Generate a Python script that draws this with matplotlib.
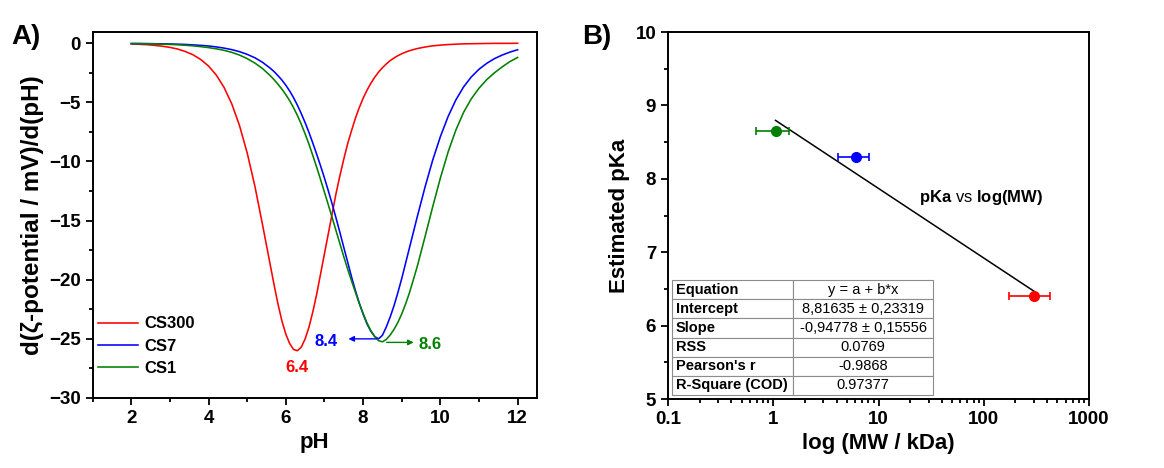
import numpy as np
import matplotlib
matplotlib.use('Agg')
import matplotlib.pyplot as plt
from matplotlib.ticker import MultipleLocator, LogLocator, FixedLocator, FixedFormatter, NullFormatter

plt.rcParams['font.family'] = ['Liberation Sans', 'DejaVu Sans']
plt.rcParams['font.weight'] = 'bold'
plt.rcParams['axes.labelweight'] = 'bold'
plt.rcParams['mathtext.fontset'] = 'custom'
plt.rcParams['mathtext.bf'] = 'Liberation Sans:bold'
plt.rcParams['mathtext.rm'] = 'Liberation Sans'

# panel A: derivative of zeta potential vs pH
ph = [2.0, 2.2, 2.4, 2.6, 2.8, 3.0, 3.2, 3.4, 3.6, 3.8, 4.0, 4.2, 4.4, 4.6, 4.8,
      5.0, 5.2, 5.4,
      5.6, 5.7, 5.8, 5.9, 6.0, 6.1, 6.2, 6.3, 6.4, 6.5, 6.6, 6.7, 6.8, 6.9,
      7.0, 7.1, 7.2, 7.3, 7.4, 7.5, 7.6, 7.7, 7.8, 7.9, 8.0, 8.1, 8.2, 8.3,
      8.4, 8.5, 8.6, 8.7, 8.8, 8.9, 9.0, 9.1, 9.2,
      9.4, 9.6, 9.8, 10.0, 10.2, 10.4, 10.6, 10.8, 11.0, 11.2, 11.4, 11.6,
      11.8, 12.0]
dz_cs300 = [-0.06, -0.09, -0.12, -0.18, -0.25, -0.35, -0.49, -0.70, -0.98, -1.38,
            -1.93, -2.69, -3.73, -5.12, -6.95, -9.28, -12.1, -15.4,
            -18.8, -20.5, -22.1, -23.5, -24.6, -25.4, -25.9, -26.0, -25.7, -25.0,
            -24.0, -22.7, -21.2, -19.5, -17.8, -16.1, -14.4, -12.7, -11.2, -9.8,
            -8.5, -7.4, -6.35, -5.45, -4.66, -3.98, -3.39, -2.88, -2.44, -2.07,
            -1.75, -1.47, -1.25, -1.05, -0.89, -0.75, -0.63,
            -0.45, -0.32, -0.22, -0.16, -0.11, -0.08, -0.05, -0.04, -0.03, -0.02,
            -0.01, -0.01, -0.01, 0.0]
dz_cs7 = [-0.02, -0.02, -0.03, -0.04, -0.05, -0.06, -0.08, -0.10, -0.14, -0.18,
          -0.23, -0.31, -0.41, -0.54, -0.71, -0.94, -1.23, -1.62,
          -2.12, -2.41, -2.75, -3.12, -3.55, -4.04, -4.6, -5.24, -5.95, -6.72,
          -7.55, -8.46, -9.4, -10.38, -11.4, -12.48, -13.6, -14.79, -16.0, -17.26,
          -18.5, -19.75, -20.9, -21.97, -22.9, -23.73, -24.35, -24.8, -25.0, -24.7,
          -24.0, -23.16, -22.2, -21.09, -19.9, -18.6, -17.3,
          -14.7, -12.2, -9.9, -7.9, -6.2, -4.8, -3.7, -2.85, -2.2, -1.7,
          -1.3, -1.0, -0.75, -0.55]
dz_cs1 = [-0.03, -0.04, -0.05, -0.06, -0.08, -0.10, -0.13, -0.17, -0.22, -0.29,
          -0.37, -0.47, -0.60, -0.77, -1.0, -1.3, -1.68, -2.15,
          -2.75, -3.10, -3.48, -3.89, -4.35, -4.86, -5.45, -6.11, -6.85, -7.67,
          -8.55, -9.51, -10.5, -11.54, -12.6, -13.67, -14.75, -15.86, -16.95, -18.05,
          -19.1, -20.09, -21.05, -21.99, -22.85, -23.65, -24.3, -24.8, -25.15, -25.25,
          -25.05, -24.68, -24.2, -23.61, -22.9, -22.05, -21.1,
          -18.9, -16.4, -13.85, -11.4, -9.2, -7.35, -5.85, -4.7, -3.8, -3.08,
          -2.5, -2.0, -1.55, -1.2]

# panel B: pKa vs molecular weight
samples = ['CS1', 'CS7', 'CS300']
mw = np.array([1.05, 6.1, 300.0])
mw_err = np.array([0.37, 2.0, 125.0])
pka = np.array([8.65, 8.3, 6.4])
intercept = 8.81635
slope = -0.94778

table_rows = [['Equation', 'y = a + b*x'],
              ['Intercept', '8,81635 \u00b1 0,23319'],
              ['Slope', '-0,94778 \u00b1 0,15556'],
              ['RSS', '0.0769'],
              ["Pearson's r", '-0.9868'],
              ['R-Square (COD)', '0.97377']]

red = '#FF0000'
blue = '#0000FF'
green = '#008000'
tick_fs = 13.5
label_fs = 16

fig = plt.figure(figsize=(11.64, 4.68), dpi=100)
axA = fig.add_axes([0.0796, 0.1496, 0.3817, 0.782])
axB = fig.add_axes([0.5739, 0.1474, 0.3617, 0.7842])


def style(ax):
    for sp in ax.spines.values():
        sp.set_linewidth(1.4)
    ax.tick_params(which='both', direction='out', top=False, right=False,
                   width=1.3, labelsize=tick_fs)
    ax.tick_params(which='major', length=5)
    ax.tick_params(which='minor', length=3)
    for t in ax.get_xticklabels() + ax.get_yticklabels():
        t.set_fontweight('bold')


# ---- A ----
axA.plot(ph, dz_cs300, color=red, lw=1.15, label='CS300')
axA.plot(ph, dz_cs7, color=blue, lw=1.15, label='CS7')
axA.plot(ph, dz_cs1, color=green, lw=1.15, label='CS1')
axA.set_xlim(1, 12.5)
axA.set_ylim(-30, 0.95)
axA.xaxis.set_major_locator(MultipleLocator(2))
axA.xaxis.set_minor_locator(MultipleLocator(1))
axA.yaxis.set_major_locator(MultipleLocator(5))
axA.yaxis.set_minor_locator(MultipleLocator(2.5))
axA.set_xlabel('pH', fontsize=label_fs)
axA.set_ylabel('d(\u03b6-potential / mV)/d(pH)', fontsize=17.5)
style(axA)
axA.legend(loc='lower left', bbox_to_anchor=(-0.015, 0.028), frameon=False,
           prop={'size': 12, 'weight': 'bold'}, handlelength=2.4,
           handletextpad=0.4, labelspacing=0.44, borderpad=0.2)

axA.text(6.29, -27.4, '6.4', color=red, fontsize=12, fontweight='bold',
         ha='center', va='center')
axA.text(7.05, -25.2, '8.4', color=blue, fontsize=12, fontweight='bold',
         ha='center', va='center')
axA.text(9.73, -25.5, '8.6', color=green, fontsize=12, fontweight='bold',
         ha='center', va='center')
axA.annotate('', xy=(7.62, -25.0), xytext=(8.35, -25.0),
             arrowprops=dict(arrowstyle='-|>', color=blue, lw=1, mutation_scale=8,
                             shrinkA=0, shrinkB=0))
axA.annotate('', xy=(9.31, -25.3), xytext=(8.61, -25.3),
             arrowprops=dict(arrowstyle='-|>', color=green, lw=1, mutation_scale=8,
                             shrinkA=0, shrinkB=0))
fig.text(0.010, 0.905, 'A)', fontsize=20, fontweight='bold')

# ---- B ----
colors = [green, blue, red]
for x, xe, y, c in zip(mw, mw_err, pka, colors):
    axB.errorbar(x, y, xerr=xe, fmt='o', color=c, ms=7, capsize=3,
                 elinewidth=1.2, capthick=1.2)
fit_x = np.array([mw.min(), mw.max()])
fit_y = intercept + slope * np.log10(fit_x)
axB.plot(fit_x, fit_y, color='black', lw=1.1, zorder=1)
axB.set_xscale('log')
axB.set_xlim(0.1, 1000)
axB.set_ylim(5, 10)
axB.xaxis.set_major_locator(FixedLocator([0.1, 1, 10, 100, 1000]))
axB.xaxis.set_major_formatter(FixedFormatter(['0.1', '1', '10', '100', '1000']))
axB.xaxis.set_minor_locator(LogLocator(base=10, subs=np.arange(2, 10)))
axB.xaxis.set_minor_formatter(NullFormatter())
axB.yaxis.set_major_locator(MultipleLocator(1))
axB.yaxis.set_minor_locator(MultipleLocator(0.5))
axB.set_xlabel('log (MW / kDa)', fontsize=label_fs)
axB.set_ylabel('Estimated pKa', fontsize=label_fs)
style(axB)
axB.text(95, 7.74, r'$\mathbf{pKa}$ vs $\mathbf{log(MW)}$', fontsize=12,
         fontweight='normal', ha='center', va='center')
fig.text(0.500, 0.905, 'B)', fontsize=20, fontweight='bold')

tab = axB.table(cellText=table_rows, colWidths=[0.464, 0.536], cellLoc='center',
                bbox=[0.0095, 0.011, 0.62, 0.313])
tab.auto_set_font_size(False)
tab.set_fontsize(10.5)
for (r, c), cell in tab.get_celld().items():
    cell.set_edgecolor('#8c8c8c')
    cell.set_linewidth(0.8)
    txt = cell.get_text()
    if c == 0:
        cell.PAD = 0.03
        txt.set_ha('left')
        txt.set_fontweight('bold')
    else:
        txt.set_fontweight('normal')

fig.savefig('out.png', dpi=100)
